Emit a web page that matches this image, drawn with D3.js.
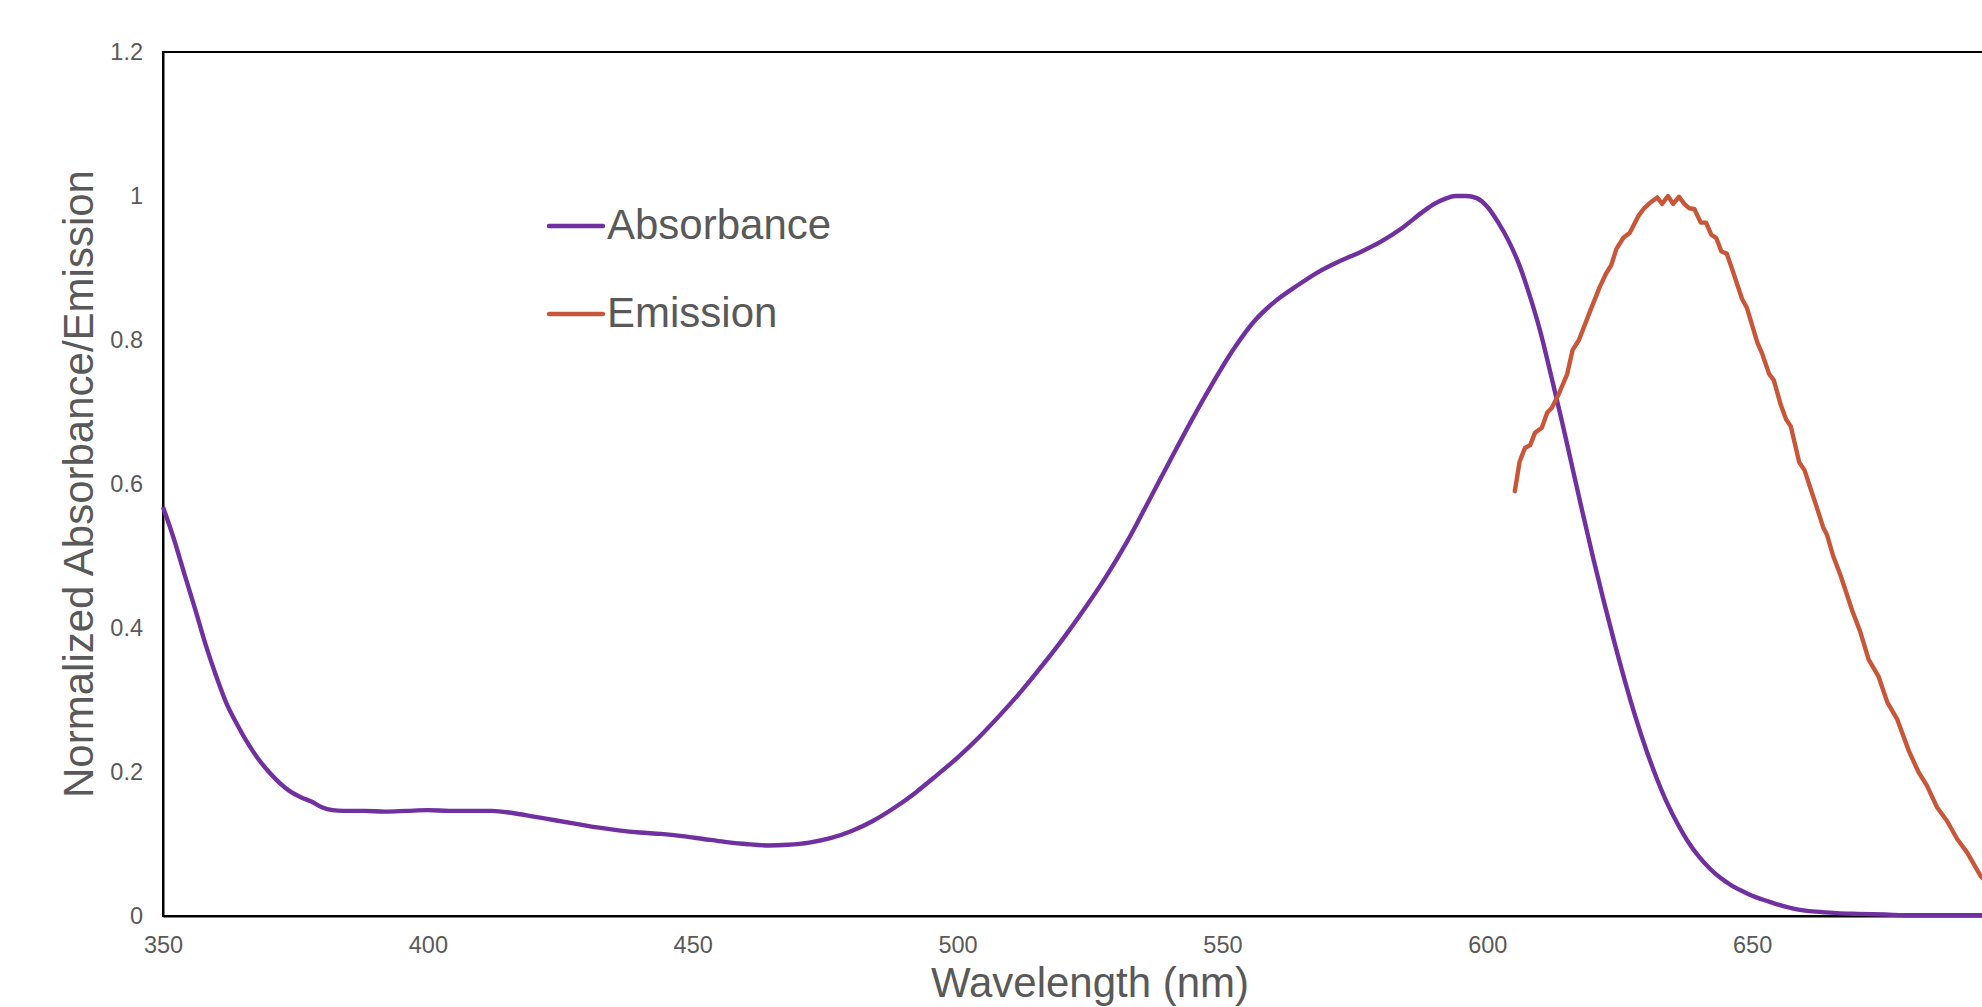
<!DOCTYPE html>
<html>
<head>
<meta charset="utf-8">
<script src="https://cdn.jsdelivr.net/npm/d3@7"></script>
<style>
  html, body { margin: 0; padding: 0; background: #ffffff; overflow: hidden; }
  svg { display: block; }
  text { font-family: "Liberation Sans", Arial, Helvetica, sans-serif; fill: #595959; }
</style>
</head>
<body>
<svg id="chart" width="1982" height="1007"></svg>
<script>
// ---------------- data ----------------
const absWavelength = [350,352,354,356,358,360,362,364,366,368,370,372,374,376,378,380,382,384,388,392,396,400,404,408,412,416,420,424,428,432,436,440,444,448,452,456,460,464,468,472,476,480,484,488,492,496,500,504,508,512,516,520,524,528,532,536,540,544,548,552,556,560,564,568,572,576,580,584,588,590,592,594,596,598,600,602,604,606,608,610,612,614,616,618,620,622,624,626,628,630,632,634,636,638,640,642,644,646,648,650,654,658,662,666,670,675,680,685,690,695,700];
const absorbance = [0.568,0.525,0.476,0.428,0.378,0.334,0.295,0.266,0.240,0.218,0.200,0.185,0.173,0.165,0.159,0.151,0.147,0.146,0.146,0.145,0.146,0.147,0.146,0.146,0.146,0.143,0.138,0.133,0.128,0.123,0.119,0.116,0.114,0.111,0.107,0.103,0.100,0.098,0.099,0.102,0.108,0.118,0.132,0.150,0.171,0.195,0.220,0.248,0.279,0.312,0.348,0.386,0.427,0.471,0.520,0.575,0.631,0.686,0.738,0.786,0.826,0.854,0.875,0.894,0.909,0.922,0.937,0.956,0.979,0.989,0.996,1.000,1.000,0.997,0.985,0.964,0.938,0.905,0.862,0.812,0.752,0.690,0.625,0.560,0.497,0.437,0.380,0.326,0.276,0.231,0.191,0.156,0.127,0.102,0.082,0.066,0.053,0.043,0.035,0.028,0.018,0.010,0.006,0.004,0.003,0.002,0.001,0.001,0.001,0.001,0.001];

const emWavelength = [605.2,606.1,607.1,608.1,609.0,610.3,611.3,612.2,613.5,615.1,616.1,617.3,619.3,621.2,622.4,623.4,624.4,625.7,626.9,628.5,629.5,630.8,632.1,633.0,634.1,635.1,636.2,637.2,638.1,639.1,640.3,641.3,642.3,643.2,644.2,645.2,646.2,648.1,649.0,651.0,651.9,653.2,654.1,655.4,656.4,657.3,658.9,659.9,661.2,662.1,663.4,664.1,665.3,666.7,668.9,670.4,672.0,673.9,675.5,677.4,679.6,681.4,683.0,684.9,686.8,688.7,690.6,693.1,695.0];
const emission = [0.590,0.631,0.650,0.654,0.671,0.678,0.699,0.706,0.725,0.753,0.786,0.800,0.838,0.873,0.892,0.904,0.927,0.942,0.949,0.972,0.982,0.991,0.998,0.989,1.000,0.989,0.999,0.989,0.983,0.982,0.963,0.963,0.946,0.942,0.923,0.920,0.899,0.857,0.845,0.796,0.781,0.753,0.744,0.710,0.690,0.680,0.630,0.619,0.590,0.570,0.540,0.530,0.500,0.473,0.424,0.395,0.356,0.332,0.297,0.273,0.229,0.200,0.181,0.151,0.132,0.107,0.088,0.056,0.040];

const seriesNames = ["Absorbance", "Emission"];
const seriesColors = ["#7030A0", "#C8573A"];
const xTicks = [350,400,450,500,550,600,650];
const yTicks = [0,0.2,0.4,0.6,0.8,1,1.2];
const xTitle = "Wavelength (nm)";
const yTitle = "Normalized Absorbance/Emission";

// ---------------- layout ----------------
const svg = d3.select("#chart");
const plotLeft = 163, plotTop = 52, plotBottom = 916, plotRight = 2017;

const x = d3.scaleLinear().domain([350, 700]).range([plotLeft, plotRight]);
const y = d3.scaleLinear().domain([0, 1.2]).range([plotBottom, plotTop]);

// plot border
svg.append("rect")
  .attr("x", plotLeft).attr("y", plotTop)
  .attr("width", plotRight - plotLeft).attr("height", plotBottom - plotTop)
  .attr("fill", "none").attr("stroke", "#000").attr("stroke-width", 2);

// axes
const xAxis = svg.append("g").attr("transform", `translate(0,${plotBottom})`)
  .call(d3.axisBottom(x).tickValues(xTicks).tickSize(0).tickPadding(20).tickFormat(d3.format("d")));
const yAxis = svg.append("g").attr("transform", `translate(${plotLeft},0)`)
  .call(d3.axisLeft(y).tickValues(yTicks).tickSize(0).tickPadding(20).tickFormat(d => String(d)));
[xAxis, yAxis].forEach(g => {
  g.select(".domain").attr("stroke", "#000").attr("stroke-width", 2);
  g.selectAll("text").attr("font-size", 23.5).attr("fill", "#595959")
    .attr("font-family", '"Liberation Sans", Arial, sans-serif');
});

// axis titles
svg.append("text").attr("x", (plotLeft + plotRight) / 2).attr("y", 997)
  .attr("text-anchor", "middle").attr("font-size", 42).text(xTitle);
svg.append("text").attr("transform", `translate(93,${(plotTop + plotBottom) / 2}) rotate(-90)`)
  .attr("text-anchor", "middle").attr("font-size", 42).text(yTitle);

// lines
const absData = absWavelength.map((w, i) => ({w, v: absorbance[i]}));
const emData = emWavelength.map((w, i) => ({w, v: emission[i]}));

svg.append("path").datum(absData)
  .attr("fill", "none").attr("stroke", seriesColors[0]).attr("stroke-width", 4.4)
  .attr("stroke-linejoin", "round")
  .attr("d", d3.line().x(d => x(d.w)).y(d => y(d.v)).curve(d3.curveMonotoneX));

svg.append("path").datum(emData)
  .attr("fill", "none").attr("stroke", seriesColors[1]).attr("stroke-width", 4.4)
  .attr("stroke-linejoin", "round").attr("stroke-linecap", "round")
  .attr("d", d3.line().x(d => x(d.w)).y(d => y(d.v)));

// legend
const legendY = [226, 314];
seriesNames.forEach((name, i) => {
  svg.append("line").attr("x1", 549).attr("x2", 603)
    .attr("y1", legendY[i]).attr("y2", legendY[i])
    .attr("stroke", seriesColors[i]).attr("stroke-width", 4.4).attr("stroke-linecap", "round");
  svg.append("text").attr("x", 607).attr("y", legendY[i] + 12.5)
    .attr("font-size", 42).text(name);
});
</script>
</body>
</html>
